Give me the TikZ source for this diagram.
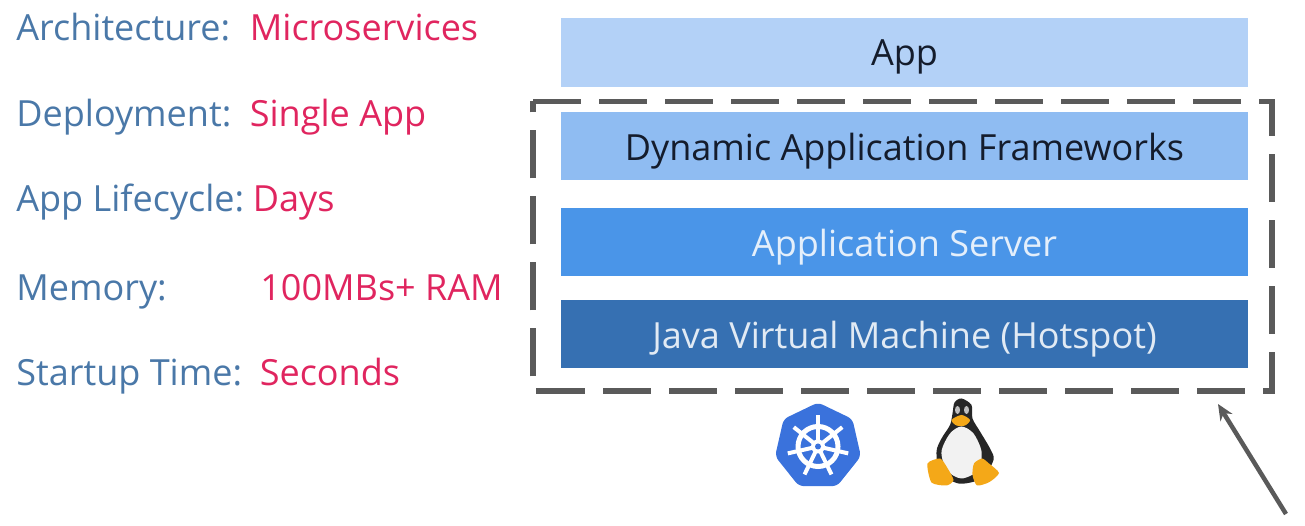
\documentclass[tikz,border=0pt]{standalone}
\usepackage{fontspec}
\setmainfont{Open Sans}
\usetikzlibrary{shapes.geometric, arrows.meta}
\definecolor{labelblue}{HTML}{4A78A8}
\definecolor{valuepink}{HTML}{E0255F}
\definecolor{framegray}{HTML}{5A5A5A}
\definecolor{appfill}{HTML}{B3D1F7}
\definecolor{dynfill}{HTML}{8FBCF2}
\definecolor{serverfill}{HTML}{4A95E8}
\definecolor{jvmfill}{HTML}{3670B2}
\definecolor{darktext}{HTML}{141C2C}
\definecolor{kubeblue}{HTML}{3A72DC}
\definecolor{tuxorange}{HTML}{F4A818}
\tikzset{
  keytext/.style={anchor=base west, inner sep=0pt, text=labelblue, font=\fontsize{20.5}{24}\selectfont},
  valtext/.style={anchor=base west, inner sep=0pt, text=valuepink, font=\fontsize{20.5}{24}\selectfont},
  layer/.style={minimum width=13.74cm, minimum height=1.36cm, inner sep=0pt, text height=0.70cm, text depth=0.1cm, font=\fontsize{20.5}{24}\selectfont},
  frame/.style={draw=framegray, line width=0.11cm, dash pattern=on 0.96cm off 0.36cm},
}
\begin{document}
\begin{tikzpicture}[>={Stealth[length=0.32cm, width=0.28cm]}]
\useasboundingbox (0,0) rectangle (26.10,10.52);
\node[keytext] (key0) at (0.32, 9.70) {Architecture:};
\node[valtext] (val0) at (4.99, 9.70) {Microservices};
\node[keytext] (key1) at (0.32, 7.98) {Deployment:};
\node[valtext] (val1) at (4.99, 7.98) {Single App};
\node[keytext] (key2) at (0.32, 6.28) {App Lifecycle:};
\node[valtext] (val2) at (5.05, 6.28) {Days};
\node[keytext] (key3) at (0.32, 4.50) {Memory:};
\node[valtext] (val3) at (5.20, 4.50) {100MBs+ RAM};
\node[keytext] (key4) at (0.32, 2.80) {Startup Time:};
\node[valtext] (val4) at (5.19, 2.80) {Seconds};
\node[layer, fill=appfill, minimum height=1.38cm, text height=0.62cm, text=darktext] (app) at (18.09, 9.47) {App};
\node[layer, fill=dynfill, text=darktext] (dyn) at (18.09, 7.60) {Dynamic Application Frameworks};
\node[layer, fill=serverfill, text=white!85!serverfill] (server) at (18.09, 5.68) {Application Server};
\node[layer, fill=jvmfill, text=white!85!jvmfill] (jvm) at (18.09, 3.84) {Java Virtual Machine (Hotspot)};
\draw[frame] (10.66, 8.49) -- (25.44, 8.49) -- (25.44, 2.70) -- (10.66, 2.70) -- cycle;
\coordinate (arrowtail) at (25.72, 0.24);
\coordinate (arrowhead) at (24.36, 2.44);
\draw[->, draw=framegray, line width=0.09cm] (arrowtail) -- (arrowhead);
% kubernetes wheel
\node[regular polygon, regular polygon sides=7, fill=kubeblue, rounded corners=0.1cm, inner sep=0pt, minimum size=1.76cm] (kube) at (16.36, 1.59) {};
\draw[white, line width=0.10cm] (kube.center) circle (0.40);
\foreach \a in {0,...,6} {
  \draw[white, line width=0.08cm] (kube.center) -- ++({90+\a*360/7}:0.62);
}
\fill[white] (kube.center) circle (0.14);
\fill[kubeblue] (kube.center) circle (0.06);
% penguin
\begin{scope}[shift={(19.24, 1.56)}]
\fill[black!85] plot[smooth cycle] coordinates {(-0.01,0.99) (0.19,0.86) (0.21,0.59) (0.36,0.33) (0.56,-0.01) (0.63,-0.24) (0.39,-0.61) (-0.07,-0.71) (-0.44,-0.47) (-0.51,-0.07) (-0.41,0.19) (-0.24,0.46) (-0.19,0.69) (-0.15,0.91)};
\fill[white!95!black] plot[smooth cycle] coordinates {(-0.01,0.43) (0.23,0.29) (0.39,-0.07) (0.33,-0.44) (-0.01,-0.61) (-0.31,-0.44) (-0.41,-0.07) (-0.24,0.29)};
\fill[white!75!black] (-0.09, 0.76) ellipse (0.05 and 0.08);
\fill[white!75!black] (0.09, 0.76) ellipse (0.05 and 0.08);
\fill[tuxorange] plot[smooth cycle, tension=0.5] coordinates {(-0.21,0.56) (-0.01,0.66) (0.16,0.56) (0.06,0.45) (-0.11,0.45)};
\fill[tuxorange] plot[smooth cycle, tension=0.4] coordinates {(-0.69,-0.31) (-0.44,-0.21) (-0.31,-0.37) (-0.17,-0.64) (-0.31,-0.75) (-0.61,-0.69)};
\fill[tuxorange] plot[smooth cycle, tension=0.4] coordinates {(0.24,-0.31) (0.40,-0.21) (0.54,-0.31) (0.74,-0.50) (0.55,-0.68) (0.30,-0.75) (0.21,-0.54)};
\end{scope}
\end{tikzpicture}
\end{document}
